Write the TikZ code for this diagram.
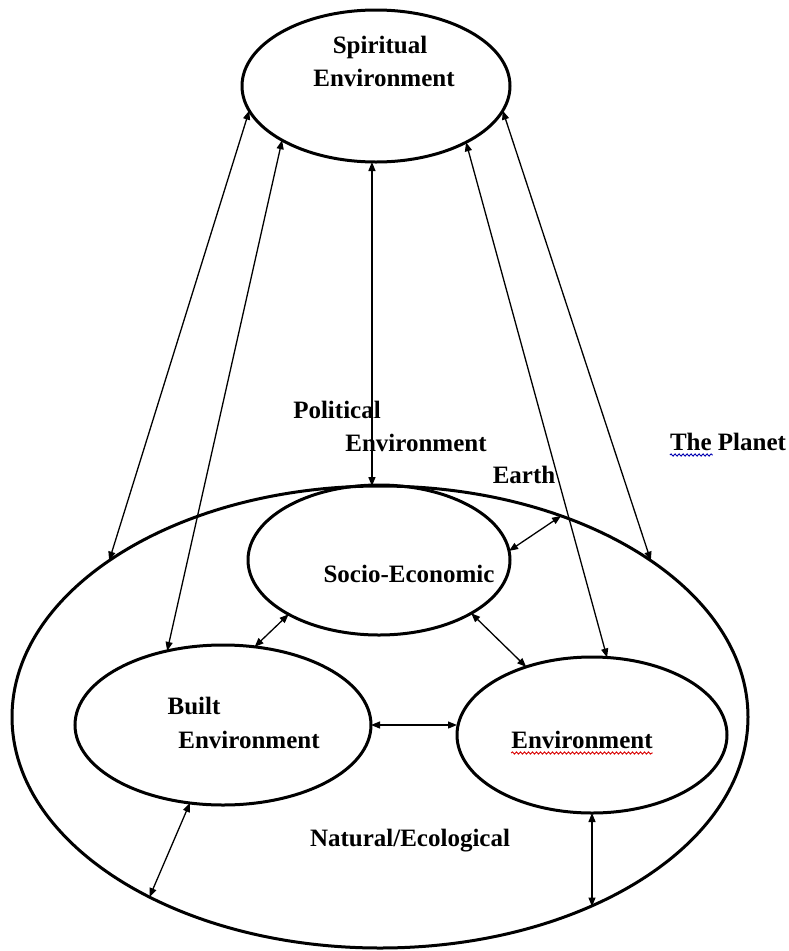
\documentclass[tikz,border=0pt]{standalone}
\usepackage{fontspec}
\setmainfont{Liberation Serif}
\usetikzlibrary{shapes.geometric,arrows.meta,decorations.pathmorphing}
\begin{document}
\begin{tikzpicture}[x=1pt,y=-1pt,
  oval/.style={ellipse,draw,line width=3pt,inner sep=0pt,outer sep=0pt},
  lbl/.style={font=\fontsize{25}{30}\selectfont\bfseries,inner sep=0pt,anchor=base},
  link/.style={line width=1.3pt,{Triangle[length=9pt,width=7pt]}-{Triangle[length=9pt,width=7pt]}},
  squig/.style={decorate,decoration={snake,amplitude=1.1pt,segment length=4pt},line width=0.9pt}]
\useasboundingbox (0,0) rectangle (788,951);
% ellipses
\node[oval,minimum width=736pt,minimum height=462pt] (earth) at (380,717) {};
\node[oval,minimum width=268pt,minimum height=152pt] (spirit) at (376,86) {};
\node[oval,minimum width=262pt,minimum height=150pt] (socio) at (379,560) {};
\node[oval,minimum width=296pt,minimum height=160pt] (built) at (223,725) {};
\node[oval,minimum width=270pt,minimum height=156pt] (env) at (592,735) {};
% labels
\node[lbl] (tspirit) at (380,53) {Spiritual};
\node[lbl] (tspirit2) at (384,86) {Environment};
\node[lbl] (tpol) at (337,418) {Political};
\node[lbl] (tpol2) at (416,451) {Environment};
\node[lbl] (tearth) at (524,483) {Earth};
\node[lbl] (tplanet) at (728,450) {The Planet};
\node[lbl] (tsocio) at (409,582) {Socio-Economic};
\node[lbl] (tbuilt) at (194,714) {Built};
\node[lbl] (tbuilt2) at (249,748) {Environment};
\node[lbl] (tenv) at (582,748) {Environment};
\node[lbl] (tnat) at (410,846) {Natural/Ecological};
% spell-check squiggles
\draw[squig,blue!70!black] ([yshift=-5pt]tplanet.base west) -- ++(43,0);
\draw[squig,red!85!black] ([yshift=-5pt]tenv.base west) -- ([yshift=-5pt]tenv.base east);
% connectors
\draw[link] (earth.150.3) -- (spirit.191.4);
\draw[link] (built.127.1) -- (spirit.210.2);
\draw[link] (earth.92.5) -- (earth.92.5 |- spirit.south);
\draw[link] (env.79.5) -- (spirit.328.8);
\draw[link] (earth.30.6) -- (spirit.349);
\draw[link] (earth.48.7) -- (socio.4);
\draw[link] (socio.211.5) -- (built.68.7);
\draw[link] (socio.330.1) -- (env.134.2);
\draw[link] (built.east) -- (built.east -| env.west);
\draw[link] (built.247.6) -- (earth.218);
\draw[link] (env.south) -- (env.south |- earth.318.4);
\end{tikzpicture}
\end{document}
